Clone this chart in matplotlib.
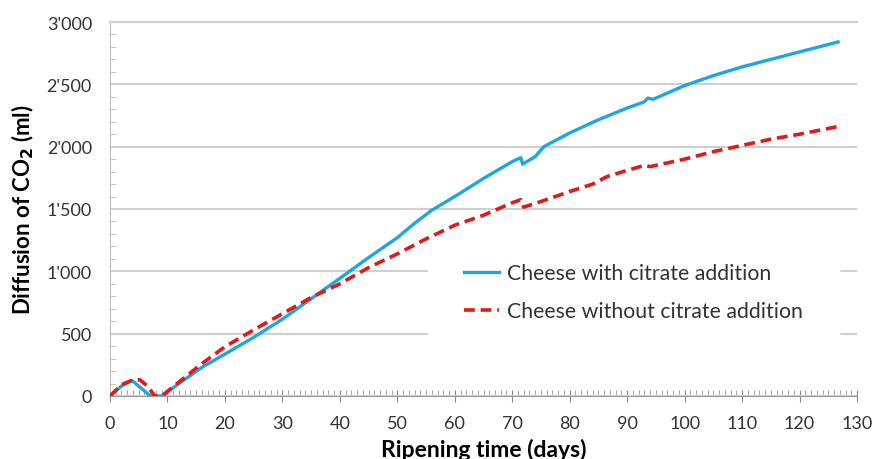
import matplotlib
matplotlib.use('Agg')
import matplotlib.pyplot as plt
from matplotlib.ticker import FuncFormatter, MultipleLocator

plt.rcParams['font.family'] = ['Lato', 'DejaVu Sans']

# Cheese with citrate addition (blue, solid)
days_citrate = [0, 2, 3.8, 5.5, 7, 9, 12, 16, 20, 25, 30, 35, 40, 45, 50, 53, 56, 60, 65, 70,
                71.5, 71.8, 74, 75.5, 80, 85, 90, 93, 93.6, 94.5, 100, 105, 110, 115, 120, 126.7]
co2_citrate = [0, 80, 125, 60, 0, 0, 100, 230, 336, 470, 616, 780, 944, 1110, 1270, 1385, 1490, 1600, 1745, 1880,
               1912, 1860, 1920, 2000, 2110, 2216, 2310, 2360, 2390, 2380, 2490, 2570, 2640, 2700, 2760, 2840]

# Cheese without citrate addition (red, dashed)
days_plain = [0, 2, 4, 5.2, 6.5, 7.8, 9, 12, 16, 20, 25, 30, 35, 40, 45, 50, 55, 60, 65, 70,
              71.5, 72, 75, 80, 84, 86.5, 90, 93, 94, 100, 105, 110, 115, 120, 126.5]
co2_plain = [0, 90, 130, 130, 80, 0, 0, 112, 260, 395, 530, 660, 790, 900, 1030, 1140, 1260, 1370, 1450, 1550,
             1575, 1515, 1560, 1640, 1700, 1760, 1810, 1850, 1840, 1900, 1960, 2010, 2060, 2100, 2160]

labels = ['Cheese with citrate addition', 'Cheese without citrate addition']

fig = plt.figure(figsize=(8.74, 4.60), dpi=100)
ax = fig.add_axes([110/874, 1 - 397/460, (857 - 110)/874, (397 - 23)/460])

ax.plot(days_citrate, co2_citrate, color='#1ea7df', lw=2.4, label=labels[0], zorder=3)
ax.plot(days_plain, co2_plain, color='#e01a1a', lw=2.6, ls=(0, (3, 1.6)), label=labels[1], zorder=3)

ax.set_xlim(0, 130)
ax.set_ylim(0, 3000)
ax.xaxis.set_major_locator(MultipleLocator(10))
ax.xaxis.set_minor_locator(MultipleLocator(1))
ax.yaxis.set_major_locator(MultipleLocator(500))
ax.yaxis.set_minor_locator(MultipleLocator(100))
ax.yaxis.set_major_formatter(FuncFormatter(lambda v, p: f'{int(v):,}'.replace(',', "'")))

ax.grid(axis='y', color='#cfcfcf', lw=1.5, zorder=0)
ax.spines['right'].set_visible(False)
ax.spines['top'].set_color('#cfcfcf')
ax.spines['top'].set_linewidth(1.5)
ax.spines['left'].set_color('#bdbdbd')
ax.spines['bottom'].set_color('#9a9a9a')

ax.tick_params(axis='x', which='major', direction='inout', length=9, color='#8a8a8a',
               labelsize=13, labelcolor='#333333', pad=9)
ax.tick_params(axis='x', which='minor', direction='in', length=4, color='#9a9a9a')
ax.tick_params(axis='y', which='major', length=0, labelsize=13, labelcolor='#333333', pad=13)
ax.tick_params(axis='y', which='minor', direction='in', length=4, color='#bdbdbd')

ax.set_xlabel('Ripening time (days)', fontsize=16.5, fontweight='bold', labelpad=5)
ax.set_ylabel(r'Diffusion of CO$_\mathbf{2}$ (ml)', fontsize=16, fontweight='bold', labelpad=8)

# legend sits on a white box that hides the gridlines behind it, but stays under the curves
leg = ax.legend(loc='center left', bbox_to_anchor=((428 - 110)/747, 0.278), fontsize=15.3,
                frameon=True, handlelength=1.65, handletextpad=0.35, labelspacing=0.85,
                borderpad=1.7, borderaxespad=0)
leg.get_frame().set_facecolor('white')
leg.get_frame().set_edgecolor('white')
leg.get_frame().set_alpha(1)
leg.get_frame().set_boxstyle('square', pad=0)
leg.set_zorder(2)
for t in leg.get_texts():
    t.set_color('#333333')

fig.savefig('out.png', dpi=100)
